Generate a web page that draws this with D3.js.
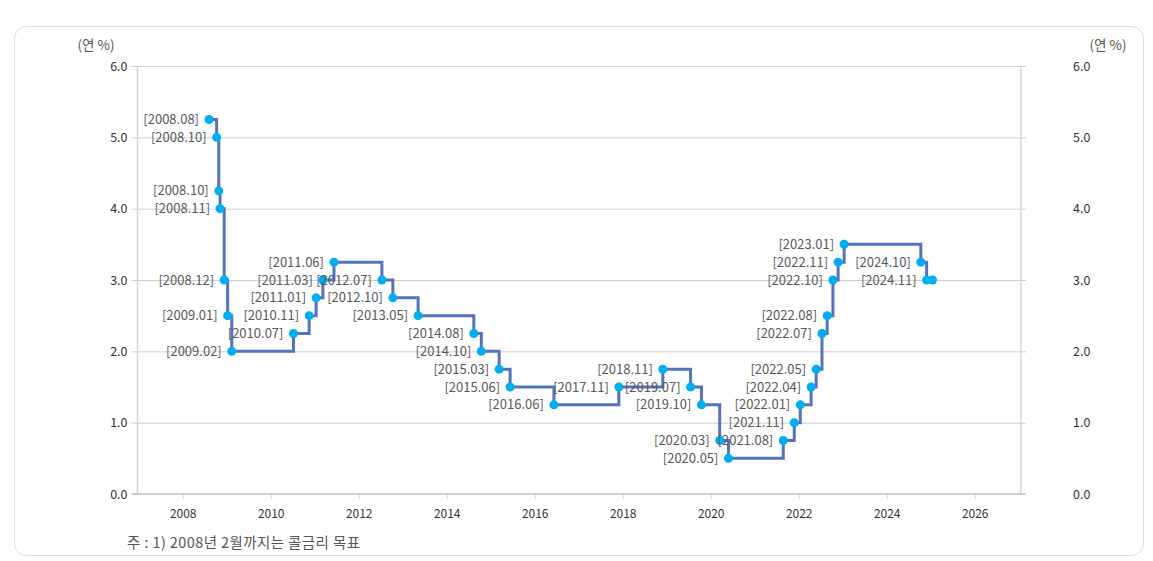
<!DOCTYPE html>
<html><head><meta charset="utf-8">
<script src="https://cdn.jsdelivr.net/npm/d3@7"></script>
<style>
html,body{margin:0;padding:0;background:#fff;}
svg{display:block;}
</style></head>
<body>
<svg id="c" width="1153" height="561"></svg>
<script>
// Decision dates (announcement dates) and policy rate levels (연 %)
const dates = ["2008-08-07","2008-10-09","2008-10-27","2008-11-07","2008-12-11","2009-01-09","2009-02-12",
 "2010-07-09","2010-11-16","2011-01-13","2011-03-10","2011-06-10","2012-07-12","2012-10-11","2013-05-09",
 "2014-08-14","2014-10-15","2015-03-12","2015-06-11","2016-06-09","2017-11-30","2018-11-30","2019-07-18",
 "2019-10-16","2020-03-16","2020-05-28","2021-08-26","2021-11-25","2022-01-14","2022-04-14","2022-05-26",
 "2022-07-13","2022-08-25","2022-10-12","2022-11-24","2023-01-13","2024-10-11","2024-11-28","2025-01-16"];
const rates = [5.25,5.00,4.25,4.00,3.00,2.50,2.00,2.25,2.50,2.75,3.00,3.25,3.00,2.75,2.50,2.25,2.00,1.75,1.50,1.25,
 1.50,1.75,1.50,1.25,0.75,0.50,0.75,1.00,1.25,1.50,1.75,2.25,2.50,3.00,3.25,3.50,3.25,3.00,3.00];
const labels = ["[2008.08]","[2008.10]","[2008.10]","[2008.11]","[2008.12]","[2009.01]","[2009.02]",
 "[2010.07]","[2010.11]","[2011.01]","[2011.03]","[2011.06]","[2012.07]","[2012.10]","[2013.05]",
 "[2014.08]","[2014.10]","[2015.03]","[2015.06]","[2016.06]","[2017.11]","[2018.11]","[2019.07]",
 "[2019.10]","[2020.03]","[2020.05]","[2021.08]","[2021.11]","[2022.01]","[2022.04]","[2022.05]",
 "[2022.07]","[2022.08]","[2022.10]","[2022.11]","[2023.01]","[2024.10]","[2024.11]",""];
const xTicks = [2008,2010,2012,2014,2016,2018,2020,2022,2024,2026];
const yTicks = [0,1,2,3,4,5,6];
const unitLabel = "(연 %)";
const footnote = "주 : 1) 2008년 2월까지는 콜금리 목표";

function toYear(s){
  const d = new Date(s+"T00:00:00Z");
  const y = d.getUTCFullYear();
  const start = Date.UTC(y,0,1), end = Date.UTC(y+1,0,1);
  return y + (d - start)/(end - start);
}
const data = dates.map((d,i)=>({x:toYear(d), y:rates[i], label:labels[i]}));

const svg = d3.select("#c");
const font = "'Segoe UI','Noto Sans CJK KR','Noto Sans',sans-serif";

// card
svg.append("rect").attr("x",14.5).attr("y",26.5).attr("width",1129).attr("height",529)
  .attr("rx",12).attr("fill","#fff").attr("stroke","#dcdcdc");

const x = d3.scaleLinear().domain([2007,2027]).range([138.7,1018.7]);
const y = d3.scaleLinear().domain([0,6]).range([494,66]);
const L = 137.5, R = 1021;

// gridlines
svg.append("g").selectAll("line").data(yTicks.filter(t=>t>0)).join("line")
  .attr("x1",L-6).attr("x2",R+5).attr("y1",d=>y(d)+0.5).attr("y2",d=>y(d)+0.5)
  .attr("stroke","#cfcfcf").attr("stroke-width",1);

// vertical frame lines
svg.append("line").attr("x1",L).attr("x2",L).attr("y1",y(6)).attr("y2",y(0)).attr("stroke","#d4d4d4").attr("stroke-width",1.5);
svg.append("line").attr("x1",R).attr("x2",R).attr("y1",y(6)).attr("y2",y(0)).attr("stroke","#d4d4d4").attr("stroke-width",1.5);

// x axis
const xAxis = d3.axisBottom(x).tickValues(xTicks).tickFormat(d3.format("d")).tickSize(5).tickPadding(10);
const gx = svg.append("g").attr("transform",`translate(0,${y(0)})`).call(xAxis);
gx.select(".domain").remove();
gx.selectAll(".tick line").attr("stroke","#cfcfcf");
gx.selectAll("text").attr("fill","#333").style("font-family",font).style("font-size","12px");
svg.append("line").attr("x1",L-6).attr("x2",R+5).attr("y1",y(0)).attr("y2",y(0)).attr("stroke","#cfcfcf").attr("stroke-width",2);

// y axes
const yl = svg.append("g").attr("transform",`translate(${L-10},0)`)
  .call(d3.axisLeft(y).tickValues(yTicks).tickFormat(d3.format(".1f")).tickSize(0).tickPadding(0));
yl.select(".domain").remove();
yl.selectAll("text").attr("fill","#333").style("font-family",font).style("font-size","12.5px");
const yr = svg.append("g").attr("transform",`translate(1073,0)`)
  .call(d3.axisRight(y).tickValues(yTicks).tickFormat(d3.format(".1f")).tickSize(0).tickPadding(0));
yr.select(".domain").remove();
yr.selectAll("text").attr("fill","#333").style("font-family",font).style("font-size","12.5px");

// unit labels
svg.append("text").attr("x",96).attr("y",50).attr("text-anchor","middle").attr("fill","#555")
  .style("font-family",font).style("font-size","13.5px").text(unitLabel);
svg.append("text").attr("x",1108).attr("y",50).attr("text-anchor","middle").attr("fill","#555")
  .style("font-family",font).style("font-size","13.5px").text(unitLabel);

// step line
const line = d3.line().x(d=>x(d.x)).y(d=>y(d.y)).curve(d3.curveStepAfter);
svg.append("path").datum(data).attr("d",line).attr("fill","none")
  .attr("stroke","#5473be").attr("stroke-width",3);

// dots
svg.append("g").selectAll("circle").data(data).join("circle")
  .attr("cx",d=>x(d.x)).attr("cy",d=>y(d.y)).attr("r",4.5).attr("fill","#00aef0");

// labels
svg.append("g").selectAll("text").data(data.filter(d=>d.label)).join("text")
  .attr("x",d=>x(d.x)-10).attr("y",d=>y(d.y)).attr("dy","0.35em").attr("text-anchor","end")
  .attr("fill","#585858").style("font-family",font).style("font-size","13px").text(d=>d.label);

// footnote
svg.append("text").attr("x",127).attr("y",548).attr("fill","#555")
  .style("font-family",font).style("font-size","14.5px").style("letter-spacing","0.4px").text(footnote);
</script>
</body></html>
